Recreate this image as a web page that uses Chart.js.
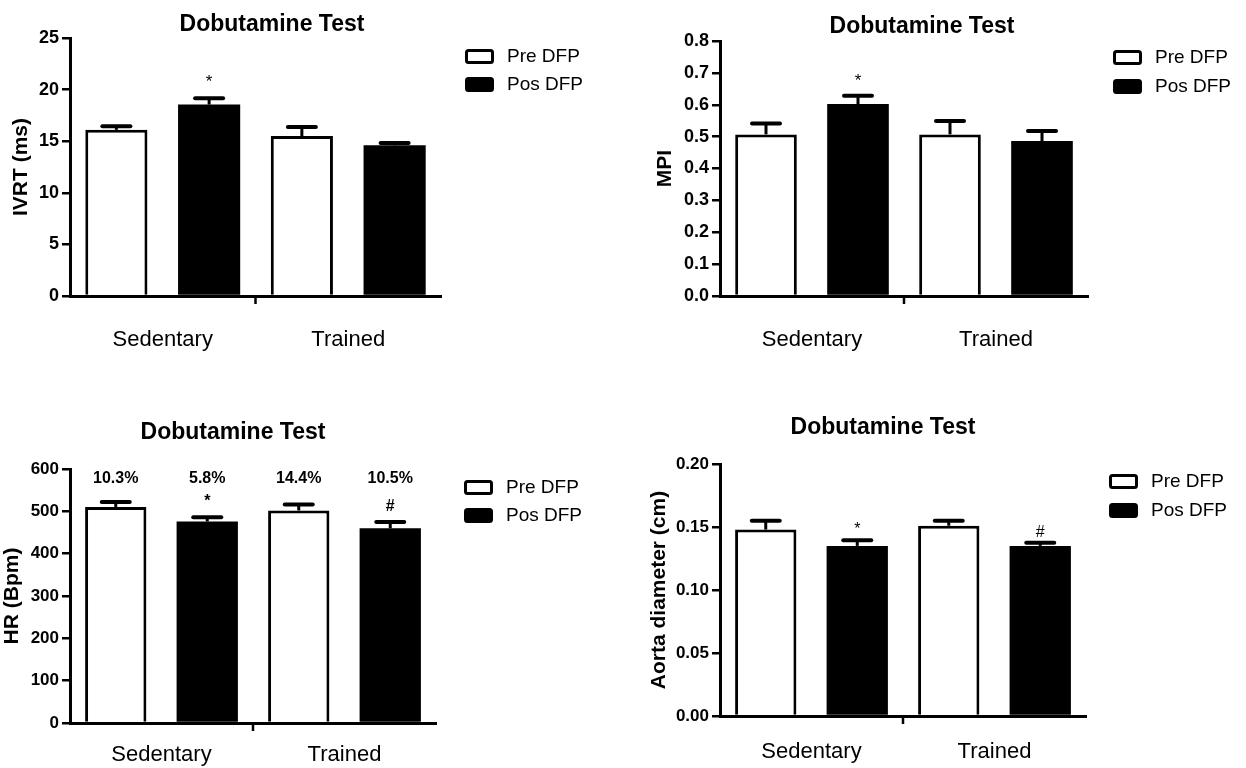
<!DOCTYPE html>
<html>
<head>
<meta charset="utf-8">
<title>Dobutamine Test</title>
<script src="https://cdn.jsdelivr.net/npm/chart.js@4.4.1/dist/chart.umd.min.js"></script>
<style>
  html, body { margin: 0; padding: 0; background: #fff; }
  body { width: 1246px; height: 768px; position: relative; overflow: hidden; }
  canvas { position: absolute; }
</style>
</head>
<body>
<canvas id="ivrt" width="620" height="384" style="left:0;top:0"></canvas>
<canvas id="mpi" width="626" height="384" style="left:620px;top:0"></canvas>
<canvas id="hr" width="620" height="384" style="left:0;top:384px"></canvas>
<canvas id="aorta" width="626" height="384" style="left:620px;top:384px"></canvas>
<script>
// groups on the x axis and the two series
const groups = ['Sedentary', 'Trained'];
const seriesNames = ['Pre DFP', 'Pos DFP'];

// IVRT (ms) - mean and SEM, [Sedentary, Trained]
const ivrtPre = [16.1, 15.5];
const ivrtPreErr = [0.35, 0.87];
const ivrtPos = [18.55, 14.6];
const ivrtPosErr = [0.6, 0.22];
const ivrtTicks = { min: 0, max: 25, step: 5 };

// MPI
const mpiPre = [0.507, 0.507];
const mpiPreErr = [0.034, 0.042];
const mpiPos = [0.602, 0.486];
const mpiPosErr = [0.026, 0.032];
const mpiTicks = { min: 0, max: 0.8, step: 0.1 };

// HR (Bpm)
const hrPre = [510, 502];
const hrPreErr = [12, 14];
const hrPos = [476, 460];
const hrPosErr = [10, 15];
const hrTicks = { min: 0, max: 600, step: 100 };
const hrPrePct = ['10.3%', '14.4%'];
const hrPosPct = ['5.8%', '10.5%'];

// Aorta diameter (cm)
const aortaPre = [0.148, 0.151];
const aortaPreErr = [0.007, 0.004];
const aortaPos = [0.135, 0.135];
const aortaPosErr = [0.0045, 0.0025];
const aortaTicks = { min: 0, max: 0.2, step: 0.05 };

// significance marks over the bars
const noMarks = ['', ''];
const sedMark = ['*', ''];
const bothMarks = ['*', '#'];

Chart.defaults.font.family = '"Liberation Sans", Arial, Helvetica, sans-serif';
Chart.defaults.color = '#000';

// draws error bars, middle tick, marks, title and legend
const extras = {
  id: 'extras',
  afterDatasetsDraw(chart, args, o) {
    const ctx = chart.ctx;
    const y = chart.scales.y;
    const x = chart.scales.x;
    const area = chart.chartArea;
    ctx.save();
    ctx.strokeStyle = '#000';
    ctx.fillStyle = '#000';

    // tick between the two groups
    const mid = (x.getPixelForValue(0) + x.getPixelForValue(1)) / 2;
    ctx.lineWidth = 2.5;
    ctx.beginPath();
    ctx.moveTo(mid, area.bottom);
    ctx.lineTo(mid, area.bottom + 8);
    ctx.stroke();

    chart.data.datasets.forEach((ds, di) => {
      const meta = chart.getDatasetMeta(di);
      meta.data.forEach((bar, i) => {
        const top = y.getPixelForValue(ds.data[i] + ds.errors[i]);
        ctx.lineCap = 'butt';
        ctx.lineWidth = 3;
        ctx.beginPath();
        ctx.moveTo(bar.x, bar.y);
        ctx.lineTo(bar.x, top);
        ctx.stroke();
        ctx.lineCap = 'round';
        ctx.lineWidth = 4;
        ctx.beginPath();
        ctx.moveTo(bar.x - 14, top);
        ctx.lineTo(bar.x + 14, top);
        ctx.stroke();

        if (ds.marks && ds.marks[i]) {
          ctx.font = o.markFont;
          ctx.textAlign = 'center';
          ctx.textBaseline = 'alphabetic';
          ctx.fillText(ds.marks[i], bar.x, top - o.markGap);
        }
        if (ds.notes && ds.notes[i]) {
          ctx.font = 'bold 16px "Liberation Sans", Arial, sans-serif';
          ctx.textAlign = 'center';
          ctx.textBaseline = 'middle';
          ctx.fillText(ds.notes[i], bar.x, area.top + 10);
        }
      });
    });
    ctx.restore();
  },
  afterDraw(chart, args, o) {
    const ctx = chart.ctx;
    ctx.save();
    ctx.fillStyle = '#000';
    ctx.strokeStyle = '#000';
    ctx.font = 'bold 23px "Liberation Sans", Arial, sans-serif';
    ctx.textAlign = 'center';
    ctx.textBaseline = 'middle';
    ctx.fillText(o.title, o.titleX, o.titleY);

    // legend
    ctx.font = '19px "Liberation Sans", Arial, sans-serif';
    ctx.textAlign = 'left';
    chart.data.datasets.forEach((ds, di) => {
      const by = o.legendY + di * o.legendStep;
      ctx.fillStyle = ds.backgroundColor;
      ctx.lineWidth = 3;
      ctx.beginPath();
      ctx.roundRect(o.legendX + 1.5, by + 1.5, 26, 12, 2);
      ctx.fill();
      ctx.stroke();
      ctx.fillStyle = '#000';
      ctx.fillText(ds.label, o.legendX + 42, by + 8);
    });
    ctx.restore();
  }
};

function makePanel(id, p) {
  const c = document.getElementById(id);
  const H = c.height;
  new Chart(c, {
    type: 'bar',
    data: {
      labels: groups,
      datasets: [
        { label: seriesNames[0], data: p.pre, errors: p.preErr, marks: p.preMarks, notes: p.preNotes,
          backgroundColor: '#ffffff', borderColor: '#000', borderWidth: 3, borderSkipped: 'bottom' },
        { label: seriesNames[1], data: p.pos, errors: p.posErr, marks: p.posMarks, notes: p.posNotes,
          backgroundColor: '#000000', borderColor: '#000', borderWidth: 0, borderSkipped: 'bottom' }
      ]
    },
    options: {
      responsive: false,
      animation: false,
      events: [],
      categoryPercentage: 1.0,
      barPercentage: 0.67,
      layout: { padding: { left: 0, top: p.area.top, right: c.width - p.area.right, bottom: 0 } },
      plugins: {
        legend: { display: false },
        tooltip: { enabled: false },
        extras: {
          title: 'Dobutamine Test', titleX: p.titleX, titleY: p.titleY,
          legendX: p.legendX, legendY: p.legendY, legendStep: p.legendStep,
          markFont: p.markFont, markGap: p.markGap
        }
      },
      scales: {
        x: {
          grid: { display: false },
          border: { color: '#000', width: 3, z: 1 },
          ticks: { font: { size: 22 }, color: '#000', padding: p.labelPad },
          afterFit: s => { s.height = H - p.area.bottom; }
        },
        y: {
          min: p.ticks.min,
          max: p.ticks.max,
          ticks: {
            stepSize: p.ticks.step,
            color: '#000',
            padding: 3,
            font: { size: p.tickSize, weight: 'bold' },
            callback: v => v.toFixed(p.decimals)
          },
          grid: { drawOnChartArea: false, drawTicks: true, tickLength: 8, color: '#000', lineWidth: 2.5 },
          border: { color: '#000', width: 3, z: 1 },
          title: {
            display: true, text: p.yTitle, color: '#000',
            font: { size: 21, weight: 'bold' },
            padding: { top: p.yTitlePad, bottom: 0 }
          },
          afterFit: s => { s.width = p.area.left; }
        }
      }
    },
    plugins: [extras]
  });
}

makePanel('ivrt', {
  pre: ivrtPre, preErr: ivrtPreErr, pos: ivrtPos, posErr: ivrtPosErr,
  preMarks: noMarks, posMarks: sedMark,
  ticks: ivrtTicks, decimals: 0, yTitle: 'IVRT (ms)',
  area: { left: 70, right: 441, top: 38, bottom: 296 },
  tickSize: 18, yTitlePad: 9, labelPad: 23,
  titleX: 272, titleY: 25,
  legendX: 465, legendY: 49, legendStep: 28,
  markFont: '17px "Liberation Sans", Arial, sans-serif', markGap: 11
});

makePanel('mpi', {
  pre: mpiPre, preErr: mpiPreErr, pos: mpiPos, posErr: mpiPosErr,
  preMarks: noMarks, posMarks: sedMark,
  ticks: mpiTicks, decimals: 1, yTitle: 'MPI',
  area: { left: 100, right: 468, top: 41, bottom: 296 },
  tickSize: 18, yTitlePad: 33, labelPad: 23,
  titleX: 302, titleY: 27,
  legendX: 493, legendY: 50, legendStep: 29,
  markFont: '17px "Liberation Sans", Arial, sans-serif', markGap: 10
});

makePanel('hr', {
  pre: hrPre, preErr: hrPreErr, pos: hrPos, posErr: hrPosErr,
  preMarks: noMarks, posMarks: bothMarks,
  preNotes: hrPrePct, posNotes: hrPosPct,
  ticks: hrTicks, decimals: 0, yTitle: 'HR (Bpm)',
  area: { left: 70, right: 436, top: 85, bottom: 339 },
  tickSize: 17, yTitlePad: 0, labelPad: 11,
  titleX: 233, titleY: 49,
  legendX: 464, legendY: 96, legendStep: 28,
  markFont: 'bold 16px "Liberation Sans", Arial, sans-serif', markGap: 11
});

makePanel('aorta', {
  pre: aortaPre, preErr: aortaPreErr, pos: aortaPos, posErr: aortaPosErr,
  preMarks: noMarks, posMarks: bothMarks,
  ticks: aortaTicks, decimals: 2, yTitle: 'Aorta diameter (cm)',
  area: { left: 100, right: 466, top: 80, bottom: 332 },
  tickSize: 17, yTitlePad: 27, labelPad: 15,
  titleX: 263, titleY: 44,
  legendX: 489, legendY: 90, legendStep: 29,
  markFont: '16px "Liberation Sans", Arial, sans-serif', markGap: 6
});
</script>
</body>
</html>
